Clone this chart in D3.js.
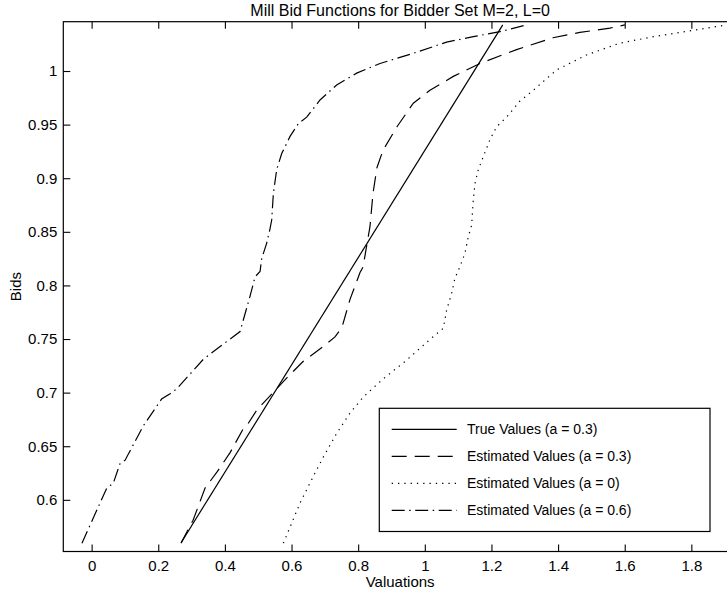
<!DOCTYPE html>
<html>
<head>
<meta charset="utf-8">
<script src="https://cdn.jsdelivr.net/npm/d3@7"></script>
<style>
  html, body { margin: 0; padding: 0; background: #fff; }
  svg { display: block; }
  text { font-family: "Liberation Sans", Arial, Helvetica, sans-serif; fill: #000; }
</style>
</head>
<body>
<svg id="chart" width="727" height="591"></svg>
<script>
// ---- data ----
const titleText = "Mill Bid Functions for Bidder Set M=2, L=0";
const xLabelText = "Valuations";
const yLabelText = "Bids";

const xTicks = [0, 0.2, 0.4, 0.6, 0.8, 1, 1.2, 1.4, 1.6, 1.8];
const xTickLabels = ["0", "0.2", "0.4", "0.6", "0.8", "1", "1.2", "1.4", "1.6", "1.8"];
const yTicks = [0.6, 0.65, 0.7, 0.75, 0.8, 0.85, 0.9, 0.95, 1];
const yTickLabels = ["0.6", "0.65", "0.7", "0.75", "0.8", "0.85", "0.9", "0.95", "1"];

const seriesNames = ["True Values (a = 0.3)", "Estimated Values (a = 0.3)", "Estimated Values (a = 0)", "Estimated Values (a = 0.6)"];

// True values (a = 0.3)
const trueVal = [0.2685, 1.234];
const trueBid = [0.560, 1.043];

// Estimated values (a = 0.3)
const est03Val = [0.2685, 0.3045, 0.3405, 0.3765, 0.4155, 0.4545, 0.4695, 0.4965, 0.5355, 0.5565, 0.5865, 0.6345, 0.6945, 0.7305, 0.7515, 0.7755, 0.8055, 0.8145, 0.8355, 0.8445, 0.8565, 0.8745, 0.9165, 0.9655, 1.0155, 1.0855, 1.1655, 1.2755, 1.3845, 1.4655, 1.5555, 1.6005];
const est03Bid = [0.5596, 0.581, 0.611, 0.626, 0.644, 0.666, 0.671, 0.684, 0.697, 0.704, 0.714, 0.729, 0.743, 0.752, 0.761, 0.787, 0.812, 0.817, 0.855, 0.886, 0.910, 0.926, 0.948, 0.970, 0.982, 0.995, 1.007, 1.020, 1.031, 1.036, 1.040, 1.043];

// Estimated values (a = 0)
const est0Val = [0.5755, 0.6255, 0.6655, 0.6955, 0.7355, 0.7755, 0.8155, 0.8755, 0.9405, 0.9805, 1.0205, 1.0555, 1.0655, 1.0805, 1.0905, 1.1055, 1.1205, 1.1305, 1.1405, 1.1455, 1.1505, 1.1605, 1.1755, 1.1955, 1.2155, 1.2455, 1.2855, 1.3255, 1.3955, 1.4855, 1.5855, 1.6855, 1.7855, 1.8655, 1.93];
const est0Bid = [0.5596, 0.597, 0.622, 0.640, 0.662, 0.681, 0.696, 0.713, 0.729, 0.740, 0.751, 0.760, 0.777, 0.7925, 0.807, 0.8175, 0.830, 0.8455, 0.856, 0.880, 0.895, 0.908, 0.920, 0.936, 0.948, 0.957, 0.972, 0.982, 1.001, 1.015, 1.026, 1.032, 1.037, 1.041, 1.044];

// Estimated values (a = 0.6)
const est06Val = [-0.029, 0.0455, 0.065, 0.0855, 0.1005, 0.155, 0.21, 0.2355, 0.2555, 0.335, 0.3855, 0.4455, 0.4755, 0.4905, 0.5055, 0.5105, 0.5255, 0.5355, 0.5405, 0.5455, 0.5555, 0.5705, 0.5955, 0.6205, 0.6455, 0.6855, 0.7355, 0.7955, 0.8655, 0.9655, 1.0655, 1.1455, 1.2255, 1.3055];
const est06Bid = [0.5596, 0.611, 0.6155, 0.634, 0.637, 0.669, 0.694, 0.699, 0.7035, 0.731, 0.743, 0.757, 0.790, 0.808, 0.813, 0.825, 0.8395, 0.853, 0.861, 0.886, 0.908, 0.923, 0.939, 0.951, 0.957, 0.973, 0.987, 0.998, 1.007, 1.0165, 1.027, 1.032, 1.0367, 1.043];

const xDomain = [-0.085, 1.937];
const yDomain = [0.5518, 1.046];

// ---- layout ----
const svg = d3.select("#chart");
const L = 63.3, R = 737, T = 21.7, B = 551.5;

const x = d3.scaleLinear().domain(xDomain).range([L, R]);
const y = d3.scaleLinear().domain(yDomain).range([B, T]);

const zip = (a, b) => a.map((v, i) => [v, b[i]]);
const series = [
  { name: seriesNames[0], data: zip(trueVal, trueBid), dash: null },
  { name: seriesNames[1], data: zip(est03Val, est03Bid), dash: "15,8" },
  { name: seriesNames[2], data: zip(est0Val, est0Bid), dash: "1.3,5" },
  { name: seriesNames[3], data: zip(est06Val, est06Bid), dash: "13,4.5,1.5,4.5" }
];

svg.append("defs").append("clipPath").attr("id", "clip")
  .append("rect").attr("x", L).attr("y", T).attr("width", R - L).attr("height", B - T);

// axes
const fmtX = (d) => xTickLabels[xTicks.indexOf(d)];
const fmtY = (d) => yTickLabels[yTicks.indexOf(d)];

const gx = svg.append("g").attr("transform", `translate(0,${B})`)
  .call(d3.axisBottom(x).tickValues(xTicks).tickFormat(fmtX).tickSizeInner(-7).tickSizeOuter(0).tickPadding(9));
const gxt = svg.append("g").attr("transform", `translate(0,${T})`)
  .call(d3.axisTop(x).tickValues(xTicks).tickFormat("").tickSizeInner(-7).tickSizeOuter(0));
const gy = svg.append("g").attr("transform", `translate(${L},0)`)
  .call(d3.axisLeft(y).tickValues(yTicks).tickFormat(fmtY).tickSizeInner(-7).tickSizeOuter(0).tickPadding(6));
const gyr = svg.append("g").attr("transform", `translate(${R},0)`)
  .call(d3.axisRight(y).tickValues(yTicks).tickFormat("").tickSizeInner(-7).tickSizeOuter(0));

[gx, gxt, gy, gyr].forEach(g => {
  g.select(".domain").remove();
  g.selectAll(".tick line").attr("stroke", "#000").attr("stroke-width", 1.1);
  g.selectAll(".tick text").attr("font-size", 15).attr("fill", "#000")
    .attr("font-family", "'Liberation Sans', Arial, Helvetica, sans-serif");
});

// frame
svg.append("rect").attr("x", L).attr("y", T).attr("width", R - L).attr("height", B - T)
  .attr("fill", "none").attr("stroke", "#000").attr("stroke-width", 1.2);

// lines
const line = d3.line().x(d => x(d[0])).y(d => y(d[1]));
const gl = svg.append("g").attr("clip-path", "url(#clip)");
series.forEach(s => {
  gl.append("path").datum(s.data)
    .attr("d", line)
    .attr("fill", "none")
    .attr("stroke", "#000")
    .attr("stroke-width", 1.2)
    .attr("stroke-dasharray", s.dash);
});

// title and labels
svg.append("text").attr("x", (L + R) / 2).attr("y", 16).attr("text-anchor", "middle")
  .attr("font-size", 16).text(titleText);
svg.append("text").attr("x", (L + R) / 2).attr("y", 587).attr("text-anchor", "middle")
  .attr("font-size", 15).text(xLabelText);
svg.append("text").attr("transform", `translate(21,${(T + B) / 2}) rotate(-90)`)
  .attr("text-anchor", "middle").attr("font-size", 15).text(yLabelText);

// legend
const lg = svg.append("g");
const lx = 379.3, ly = 408.3, lw = 330.7, lh = 123.2;
lg.append("rect").attr("x", lx).attr("y", ly).attr("width", lw).attr("height", lh)
  .attr("fill", "#fff").attr("stroke", "#000").attr("stroke-width", 1.2);
const rowY = [429.3, 456.3, 483.3, 510.3];
series.forEach((s, i) => {
  lg.append("line").attr("x1", 391.7).attr("x2", 456.7).attr("y1", rowY[i]).attr("y2", rowY[i])
    .attr("stroke", "#000").attr("stroke-width", 1.2).attr("stroke-dasharray", s.dash);
  lg.append("text").attr("x", 467).attr("y", rowY[i]).attr("dy", "0.36em")
    .attr("font-size", 14).text(s.name);
});
</script>
</body>
</html>
